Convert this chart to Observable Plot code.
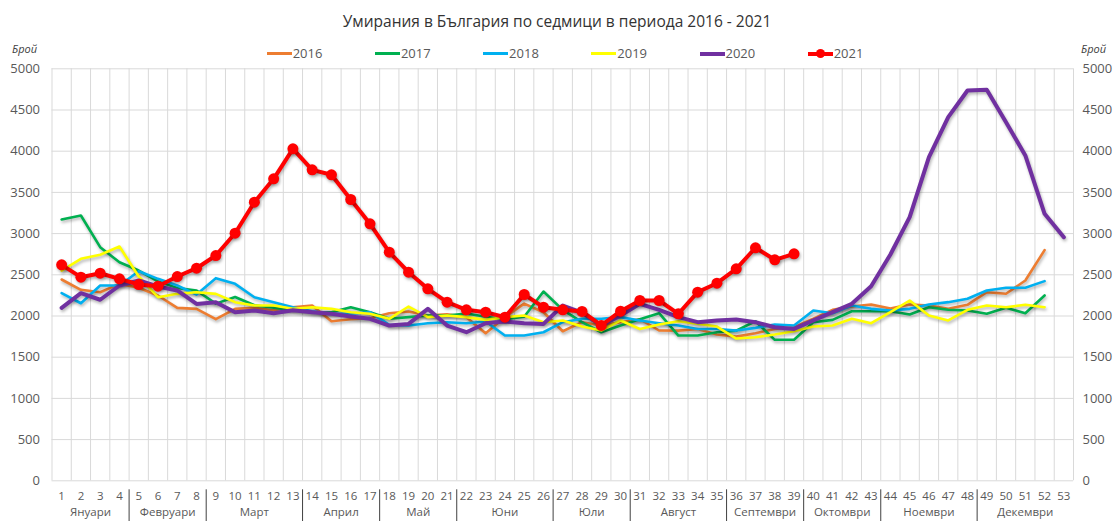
<!DOCTYPE html>
<html>
<head>
<meta charset="utf-8">
<script src="https://cdn.jsdelivr.net/npm/d3@7"></script>
<script src="https://cdn.jsdelivr.net/npm/@observablehq/plot@0.6"></script>
<style>
  html, body { margin: 0; padding: 0; background: #fff; }
  body { width: 1114px; height: 521px; overflow: hidden; font-family: "Open Sans", "DejaVu Sans", sans-serif; }
  #title { height: 42px; line-height: 42px; text-align: center; font-size: 15.5px; color: #333; }
  #legend { position: relative; height: 22px; font-size: 13px; color: #595959; }
  .item { position: absolute; top: 0; height: 22px; }
  .swatch { position: absolute; top: 10px; width: 25px; height: 3px; }
  .dot { position: absolute; top: 6.5px; left: 8px; width: 9px; height: 9px; border-radius: 50%; }
  .lab { position: absolute; left: 26px; top: 0; line-height: 22px; }
  .unit { position: absolute; top: -4px; line-height: 22px; font-size: 11px; font-style: italic; color: #404040; }
  #chart svg { display: block; }
  svg g[aria-label="line"] path { filter: drop-shadow(1px 2px 1.5px rgba(0,0,0,0.3)); }
  svg g[aria-label="dot"] circle { filter: drop-shadow(1px 2px 1.5px rgba(0,0,0,0.3)); }
</style>
</head>
<body>
<div id="title"></div>
<div id="legend"></div>
<div id="chart"></div>
<script>
const titleText = "Умирания в България по седмици в периода 2016 - 2021";
const unitLabel = "Брой";

const weeks = [1,2,3,4,5,6,7,8,9,10,11,12,13,14,15,16,17,18,19,20,21,22,23,24,25,26,27,28,29,30,31,32,33,34,35,36,37,38,39,40,41,42,43,44,45,46,47,48,49,50,51,52,53];
const yTicks = [0,500,1000,1500,2000,2500,3000,3500,4000,4500,5000];

const monthNames = ["Януари","Февруари","Март","Април","Май","Юни","Юли","Август","Септември","Октомври","Ноември","Декември"];
const monthFirstWeek = [1,5,9,14,18,22,27,31,36,40,44,49];
const monthLastWeek  = [4,8,13,17,21,26,30,35,39,43,48,53];

const y2016 = [2443,2318,2289,2390,2343,2249,2099,2087,1961,2087,2099,2070,2107,2127,1936,1961,1974,2034,2054,2006,2020,1986,1791,1986,2150,2046,1815,1925,1884,1925,1961,1824,1823,1843,1775,1750,1790,1843,1864,1966,2075,2115,2140,2090,2140,2128,2087,2136,2289,2270,2431,2800];
const y2017 = [3171,3220,2835,2653,2552,2420,2340,2310,2150,2230,2130,2100,2070,2046,2046,2107,2046,1966,1986,2006,2006,2030,1990,1960,1990,2297,2075,1925,1803,1884,1961,2034,1763,1763,1803,1823,1936,1711,1711,1925,1953,2058,2058,2058,2018,2107,2075,2067,2027,2100,2034,2249];
const y2018 = [2277,2155,2370,2370,2544,2451,2370,2260,2459,2390,2228,2168,2107,2058,2027,2027,2046,1892,1884,1912,1925,1912,1933,1763,1763,1803,1925,1966,1966,1986,1946,1913,1884,1843,1843,1823,1856,1896,1885,2067,2034,2128,2087,2067,2087,2140,2168,2209,2310,2342,2342,2423];
const y2019 = [2552,2694,2743,2843,2480,2228,2269,2289,2269,2168,2127,2127,2087,2107,2087,2046,2027,1966,2115,1986,2006,1986,1953,1986,2006,1925,1946,1872,1823,1946,1843,1897,1937,1905,1872,1726,1742,1775,1816,1872,1884,1966,1913,2046,2188,2006,1946,2075,2128,2107,2136,2107];
const y2020 = [2099,2277,2197,2370,2431,2358,2310,2147,2168,2046,2067,2034,2070,2046,2027,1994,1966,1884,1904,2087,1884,1803,1912,1933,1912,1904,2127,2040,1884,2006,2148,2075,1986,1925,1946,1957,1925,1864,1843,1946,2046,2148,2360,2746,3199,3927,4413,4737,4745,4352,3948,3240,2956];
const y2021 = [2621,2471,2519,2451,2382,2362,2479,2580,2734,3005,3381,3665,4029,3774,3714,3414,3119,2774,2532,2330,2168,2075,2046,1986,2261,2107,2075,2055,1885,2058,2188,2188,2027,2289,2398,2573,2828,2682,2755];

const seriesNames  = ["2016","2017","2018","2019","2020","2021"];
const seriesValues = [y2016, y2017, y2018, y2019, y2020, y2021];
const seriesColors = ["#ED7D31","#00B050","#00B0F0","#FFFF00","#7030A0","#FF0000"];
const seriesWidths = [2.6,2.6,2.6,2.6,4,4];

document.getElementById("title").textContent = titleText;

const legend = document.getElementById("legend");
seriesNames.forEach((name, i) => {
  const it = document.createElement("div");
  it.className = "item";
  it.style.left = (266.7 + i * 108.2) + "px";
  const sw = document.createElement("div");
  sw.className = "swatch";
  sw.style.background = seriesColors[i];
  if (seriesWidths[i] > 3) { sw.style.height = "4px"; sw.style.top = "9.5px"; }
  it.appendChild(sw);
  if (name === "2021") {
    const d = document.createElement("div");
    d.className = "dot";
    d.style.background = seriesColors[i];
    it.appendChild(d);
  }
  const lab = document.createElement("div");
  lab.className = "lab";
  lab.textContent = name;
  it.appendChild(lab);
  legend.appendChild(it);
});
const uL = document.createElement("div"); uL.className = "unit"; uL.style.left = "12px"; uL.textContent = unitLabel; legend.appendChild(uL);
const uR = document.createElement("div"); uR.className = "unit"; uR.style.left = "1081px"; uR.textContent = unitLabel; legend.appendChild(uR);

const rows = seriesNames.map((name, i) => seriesValues[i].map((v, j) => ({week: weeks[j], value: v, year: name})));

const gridBounds = weeks.map(w => w - 0.5).concat([weeks[weeks.length - 1] + 0.5]);
const monthSeparators = monthFirstWeek.slice(1).map(w => w - 0.5);
const monthCenters = monthNames.map((m, i) => ({name: m, x: (monthFirstWeek[i] + monthLastWeek[i]) / 2}));

const marks = [
  Plot.gridY(yTicks, {stroke: "#d9d9d9", strokeOpacity: 1, strokeWidth: 1}),
  Plot.gridX(gridBounds, {stroke: "#d9d9d9", strokeOpacity: 1, strokeWidth: 1}),
  Plot.axisY(yTicks, {anchor: "left", tickSize: 0, tickPadding: 12, label: null, fontSize: 13, fill: "#595959", tickFormat: d => String(d)}),
  Plot.axisY(yTicks, {anchor: "right", tickSize: 0, tickPadding: 9, label: null, fontSize: 13, fill: "#595959", tickFormat: d => String(d)}),
  Plot.axisX(weeks, {anchor: "bottom", tickSize: 0, tickPadding: 11, label: null, fontSize: 11.5, fill: "#595959", tickFormat: d => String(d)}),
  Plot.axisX(monthSeparators, {anchor: "bottom", tickSize: 32, tickPadding: 0, dy: 9, label: null, stroke: "#404040", fill: "none"}),
  Plot.text(monthCenters, {x: "x", text: "name", frameAnchor: "bottom", dy: 35, fontSize: 11.5, fill: "#595959"})
];
rows.forEach((r, i) => {
  marks.push(Plot.line(r, {x: "week", y: "value", stroke: seriesColors[i], strokeWidth: seriesWidths[i], strokeLinejoin: "round", strokeLinecap: "round"}));
});
marks.push(Plot.dot(rows[5], {x: "week", y: "value", r: 5.5, fill: seriesColors[5], stroke: "none"}));

const chart = Plot.plot({
  width: 1114,
  height: 457,
  marginLeft: 51.5,
  marginRight: 41,
  marginTop: 4.3,
  marginBottom: 40.7,
  x: {type: "linear", domain: [0.5, 53.5], axis: null},
  y: {type: "linear", domain: [0, 5000], axis: null},
  style: {fontFamily: '"Open Sans", "DejaVu Sans", sans-serif', fontSize: "13px", color: "#595959", background: "white", overflow: "visible"},
  marks
});
document.getElementById("chart").appendChild(chart);
</script>
</body>
</html>
